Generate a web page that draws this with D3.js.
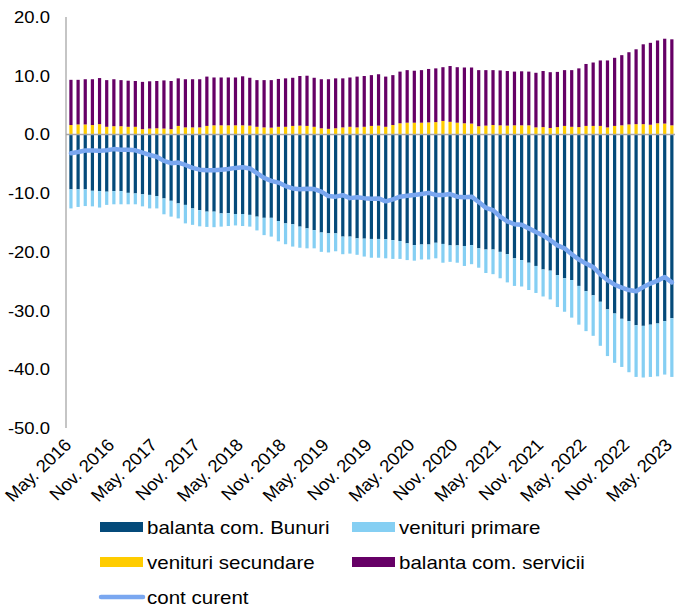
<!DOCTYPE html>
<html>
<head>
<meta charset="utf-8">
<script src="https://cdnjs.cloudflare.com/ajax/libs/d3/7.8.5/d3.min.js"></script>
<style>
  body { margin: 0; background: #fff; }
  text { font-family: "Liberation Sans", Arial, sans-serif; fill: #000; }
</style>
</head>
<body>
<div id="chart"></div>
<script>
// monthly, May 2016 - May 2023 (bn EUR, 12m rolling)
var tickLabels = ["May. 2016", "Nov. 2016", "May. 2017", "Nov. 2017", "May. 2018", "Nov. 2018",
  "May. 2019", "Nov. 2019", "May. 2020", "Nov. 2020", "May. 2021", "Nov. 2021",
  "May. 2022", "Nov. 2022", "May. 2023"];

var goods = [-9.35,-9.35,-9.35,-9.6,-9.65,-9.75,-9.65,-9.65,-9.95,-10.05,
  -10.2,-10.3,-10.5,-10.9,-11.3,-11.75,-12.0,-12.6,-12.9,-13.15,
  -13.15,-13.45,-13.4,-13.55,-13.55,-13.7,-14.0,-14.2,-14.2,-14.75,
  -15.15,-15.3,-15.7,-16.0,-16.3,-16.7,-16.85,-16.85,-17.4,-17.4,
  -17.7,-17.75,-17.8,-17.8,-17.85,-18.0,-18.15,-18.55,-18.85,-18.75,
  -18.75,-18.45,-18.65,-18.9,-18.9,-19.0,-18.85,-19.4,-19.6,-19.6,
  -20.0,-20.4,-21.1,-21.4,-21.85,-22.4,-23.0,-23.2,-23.95,-24.5,
  -24.8,-25.8,-26.7,-27.4,-28.5,-29.8,-30.5,-31.4,-31.8,-32.5,
  -32.6,-32.4,-32.2,-31.8,-31.3];

var primary = [-3.25,-3.0,-2.85,-2.65,-2.8,-2.25,-2.25,-2.25,-1.95,-1.85,
  -2.05,-2.3,-2.1,-2.7,-2.7,-2.55,-3.15,-2.8,-2.75,-2.6,
  -2.65,-2.25,-2.2,-1.95,-2.05,-2.0,-2.35,-2.95,-3.2,-3.45,
  -3.55,-3.8,-3.6,-3.4,-3.1,-3.3,-3.25,-3.05,-3.0,-2.9,
  -2.8,-3.05,-3.2,-3.2,-3.25,-3.2,-3.05,-2.85,-2.65,-2.55,
  -2.55,-2.65,-3.2,-2.8,-2.95,-3.4,-3.25,-3.3,-4.0,-4.2,
  -4.5,-4.8,-4.7,-4.5,-4.65,-4.6,-4.6,-4.9,-5.45,-5.7,
  -6.4,-6.6,-6.8,-6.9,-7.5,-7.95,-8.4,-8.2,-8.7,-8.8,
  -8.8,-8.9,-9.0,-9.1,-10.0];

var secondary = [1.6,1.7,1.7,1.6,1.75,1.3,1.4,1.4,1.3,1.3,
  0.9,1.0,1.05,1.0,0.9,1.45,1.2,1.2,1.2,1.45,
  1.55,1.55,1.55,1.55,1.55,1.5,1.3,1.2,1.15,1.3,
  1.3,1.45,1.5,1.45,1.3,1.05,0.95,1.05,1.2,1.3,
  1.2,1.3,1.45,1.5,1.3,1.6,1.9,2.0,2.0,2.0,
  2.05,2.1,2.3,2.15,2.0,1.9,1.85,1.4,1.5,1.6,
  1.55,1.5,1.55,1.55,1.55,1.2,1.25,1.1,1.25,1.45,
  1.3,1.25,1.45,1.45,1.45,1.2,1.45,1.55,1.7,1.75,
  1.75,1.65,1.9,1.85,1.55];

var services = [7.7,7.6,7.7,7.8,7.85,7.95,8.0,7.85,7.85,7.8,
  8.05,8.05,8.05,8.2,8.2,8.1,8.2,8.2,8.2,8.4,
  8.15,8.15,8.15,8.15,8.35,8.15,7.95,8.05,8.1,8.15,
  8.25,8.2,8.45,8.55,8.35,8.35,8.45,8.5,8.35,8.4,
  8.65,8.65,8.65,8.75,8.55,8.5,8.8,8.95,8.85,8.95,
  9.1,9.15,9.15,9.5,9.45,9.5,9.55,9.55,9.45,9.35,
  9.35,9.3,9.15,9.2,9.15,9.3,9.55,9.5,9.4,9.5,
  9.65,10.0,10.55,10.8,11.15,11.4,11.6,11.95,12.3,12.75,
  13.6,13.95,14.1,14.45,14.65];

var contCurent = [-3.2,-3.0,-2.75,-2.75,-2.8,-2.7,-2.5,-2.6,-2.6,-2.7,
  -3.1,-3.5,-3.8,-4.5,-4.9,-4.8,-5.2,-5.7,-6.0,-6.1,
  -6.1,-6.0,-5.9,-5.7,-5.6,-5.8,-6.6,-7.4,-7.9,-8.2,
  -8.8,-9.2,-9.35,-9.25,-9.3,-9.75,-10.5,-10.6,-10.35,-10.85,
  -10.7,-10.85,-10.95,-10.9,-11.4,-11.05,-10.6,-10.45,-10.3,-10.15,
  -9.95,-10.3,-10.3,-10.15,-10.6,-10.7,-10.6,-11.5,-12.5,-12.9,
  -14.0,-14.8,-15.3,-15.4,-16.0,-16.6,-17.2,-18.0,-18.9,-19.4,
  -20.4,-21.3,-22.0,-22.6,-23.8,-24.8,-25.6,-26.1,-26.5,-26.7,
  -26.0,-25.4,-24.9,-24.3,-25.2];

var yTicks = [20, 10, 0, -10, -20, -30, -40, -50];

var keys = ["goods", "primary", "secondary", "services"];
var names = {goods: "balanta com. Bunuri", primary: "venituri primare",
             secondary: "venituri secundare", services: "balanta com. servicii"};
var colors = {goods: "#044a7a", primary: "#85cff3", secondary: "#ffcc00", services: "#660066"};
var lineColor = "#7aa7f0";
var axisColor = "#a6a6a6";

var width = 675, height = 607;

var rows = goods.map(function (g, i) {
    return {i: i, goods: g, primary: primary[i], secondary: secondary[i], services: services[i]};
});

var svg = d3.select("#chart").append("svg")
    .attr("width", width)
    .attr("height", height);

var x = d3.scaleBand()
    .domain(rows.map(function (d) { return d.i; }))
    .range([65.4, 677.4])
    .padding(0.55);

var y = d3.scaleLinear()
    .domain([-50, 20])
    .range([428, 17]);

var stacked = d3.stack()
    .keys(keys)
    .offset(d3.stackOffsetDiverging)(rows);

// bars
svg.append("g").selectAll("g")
    .data(stacked)
    .enter().append("g")
    .attr("fill", function (s) { return colors[s.key]; })
    .selectAll("rect")
    .data(function (s) { return s; })
    .enter().append("rect")
    .attr("x", function (d) { return x(d.data.i); })
    .attr("width", x.bandwidth())
    .attr("y", function (d) { return y(Math.max(d[0], d[1])); })
    .attr("height", function (d) { return Math.abs(y(d[0]) - y(d[1])); });

// y axis line + zero line
svg.append("line")
    .attr("x1", 66).attr("x2", 66)
    .attr("y1", y(20)).attr("y2", y(-50))
    .attr("stroke", axisColor).attr("stroke-width", 1.3);

svg.append("line")
    .attr("x1", 66).attr("x2", 677)
    .attr("y1", y(0)).attr("y2", y(0))
    .attr("stroke", axisColor).attr("stroke-width", 1.5);

// y tick labels
svg.append("g").selectAll("text")
    .data(yTicks)
    .enter().append("text")
    .attr("transform", function (d) { return "translate(50," + (y(d) + 6) + ") scale(1.12,1)"; })
    .attr("text-anchor", "end")
    .style("font-size", "16.5px")
    .text(function (d) { return d.toFixed(1); });

// x tick labels (every 6 months)
svg.append("g").selectAll("text")
    .data(tickLabels)
    .enter().append("text")
    .attr("transform", function (d, k) {
        var cx = x(k * 6) + x.bandwidth() / 2;
        return "translate(" + (cx + 1.5) + ",446) scale(1.05,1) rotate(-45)";
    })
    .attr("text-anchor", "end")
    .style("font-size", "17.5px")
    .text(function (d) { return d; });

// current account line
var line = d3.line()
    .x(function (d, i) { return x(i) + x.bandwidth() / 2; })
    .y(function (d) { return y(d); });

svg.append("path")
    .datum(contCurent)
    .attr("d", line)
    .attr("fill", "none")
    .attr("stroke", lineColor)
    .attr("stroke-width", 4.5)
    .attr("stroke-linejoin", "round")
    .attr("stroke-linecap", "round");

// legend
var legendItems = [
    {key: "goods", x: 100, y: 527},
    {key: "primary", x: 352, y: 527},
    {key: "secondary", x: 100, y: 562},
    {key: "services", x: 352, y: 562}
];

var legend = svg.append("g");

legend.selectAll("rect")
    .data(legendItems)
    .enter().append("rect")
    .attr("x", function (d) { return d.x; })
    .attr("y", function (d) { return d.y - 5; })
    .attr("width", 43)
    .attr("height", 10)
    .attr("fill", function (d) { return colors[d.key]; });

legend.selectAll("text.item")
    .data(legendItems)
    .enter().append("text")
    .attr("class", "item")
    .attr("transform", function (d) { return "translate(" + (d.x + 47) + "," + (d.y + 6.5) + ") scale(1.14,1)"; })
    .style("font-size", "18px")
    .text(function (d) { return names[d.key]; });

legend.append("line")
    .attr("x1", 101).attr("x2", 143)
    .attr("y1", 597).attr("y2", 597)
    .attr("stroke", lineColor)
    .attr("stroke-width", 4.5)
    .attr("stroke-linecap", "round");

legend.append("text")
    .attr("transform", "translate(147,603.5) scale(1.14,1)")
    .style("font-size", "18px")
    .text("cont curent");
</script>
</body>
</html>
